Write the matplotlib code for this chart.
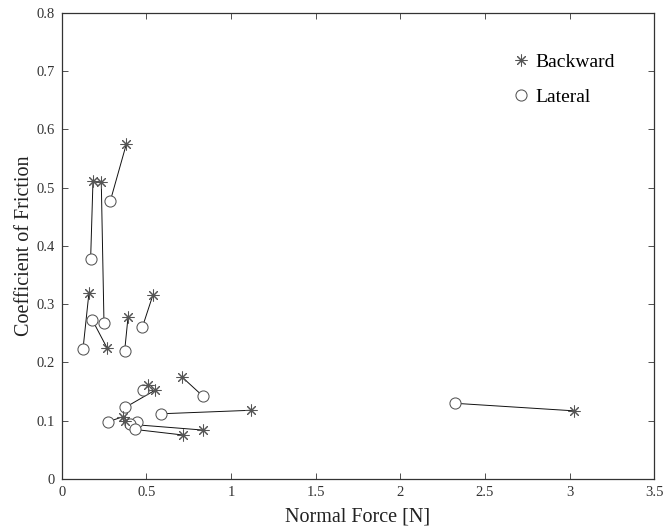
import matplotlib
matplotlib.use("Agg")
import matplotlib.pyplot as plt

# Paired measurements: each backward point is linked to a lateral point
backward_force = [0.382, 0.185, 0.234, 0.161, 0.268, 0.392, 0.539,
                  0.711, 1.120, 0.510, 0.549, 0.362, 0.375, 0.835, 0.717, 3.026]
backward_cof = [0.575, 0.512, 0.509, 0.319, 0.225, 0.278, 0.316,
                0.175, 0.118, 0.161, 0.152, 0.107, 0.100, 0.084, 0.0755, 0.117]
lateral_force = [0.287, 0.171, 0.250, 0.126, 0.181, 0.372, 0.477,
                 0.835, 0.589, 0.480, 0.376, 0.273, 0.447, 0.402, 0.435, 2.321]
lateral_cof = [0.477, 0.377, 0.267, 0.223, 0.273, 0.220, 0.261,
               0.142, 0.112, 0.152, 0.123, 0.098, 0.098, 0.094, 0.085, 0.130]

x_ticks = [0, 0.5, 1, 1.5, 2, 2.5, 3, 3.5]
x_tick_labels = ["0", "0.5", "1", "1.5", "2", "2.5", "3", "3.5"]
y_ticks = [0, 0.1, 0.2, 0.3, 0.4, 0.5, 0.6, 0.7, 0.8]
y_tick_labels = ["0", "0.1", "0.2", "0.3", "0.4", "0.5", "0.6", "0.7", "0.8"]

plt.rcParams['font.family'] = ['Liberation Serif', 'DejaVu Serif']

fig = plt.figure(figsize=(6.63, 5.29), dpi=100)
ax = fig.add_axes([0.093, 0.0945, 0.894, 0.881])

for bx, by, lx, ly in zip(backward_force, backward_cof, lateral_force, lateral_cof):
    ax.plot([bx, lx], [by, ly], color='#111111', lw=0.7, zorder=1)

mcol = '#555555'
ax.plot(backward_force, backward_cof, linestyle='none', marker=(8, 2, 0),
        ms=8.5, markeredgecolor=mcol, markeredgewidth=0.75, color=mcol,
        label='Backward', zorder=3)
ax.plot(lateral_force, lateral_cof, linestyle='none', marker='o', ms=8,
        markerfacecolor='white', markeredgecolor=mcol, markeredgewidth=0.75,
        label='Lateral', zorder=2)

ax.set_xlim(0, 3.5)
ax.set_ylim(0, 0.8)
ax.set_xticks(x_ticks)
ax.set_xticklabels(x_tick_labels)
ax.set_yticks(y_ticks)
ax.set_yticklabels(y_tick_labels)
ax.tick_params(direction='in', length=4, width=0.6, top=True, right=True,
               labelsize=10.5, pad=5, colors='#333333', labelcolor='#333333')
for s in ax.spines.values():
    s.set_linewidth(0.9)
    s.set_color('#333333')

ax.set_xlabel('Normal Force [N]', fontsize=14.5, labelpad=6, color='#222222')
ax.set_ylabel('Coefficient of Friction', fontsize=14.5, labelpad=1.5, color='#222222')

ax.legend(loc='upper left', bbox_to_anchor=(0.758, 0.914), frameon=False,
          fontsize=14, handlelength=1.0, handletextpad=0.25, labelspacing=0.9,
          borderaxespad=0, borderpad=0)

fig.savefig('out.png', dpi=100)
